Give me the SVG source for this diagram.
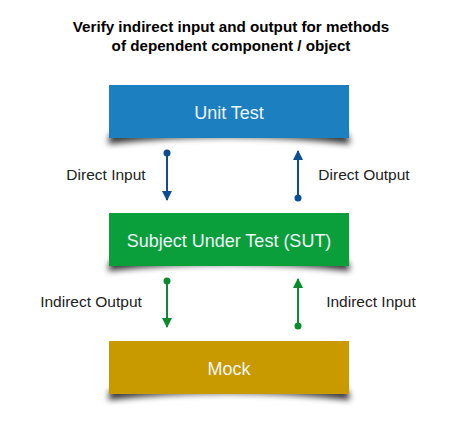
<svg xmlns="http://www.w3.org/2000/svg" width="470" height="428" viewBox="0 0 470 428">
<style>
.title{font-family:"Liberation Sans",Arial,sans-serif;font-size:15.2px;font-weight:bold;fill:#000;text-anchor:middle}
.box{font-family:"Liberation Sans",Arial,sans-serif;font-size:18px;fill:#eef4f8;text-anchor:middle}
.lbl{font-family:"Liberation Sans",Arial,sans-serif;font-size:15.5px;fill:#222;text-anchor:middle}
.blue{stroke:#0b4f91;stroke-width:2;fill:none}
.green{stroke:#0a8c2c;stroke-width:2;fill:none}
</style>
<defs>
<filter id="blur" x="-10%" y="-50%" width="120%" height="200%"><feGaussianBlur stdDeviation="3"/></filter>
<marker id="ab" viewBox="0 0 10 10" refX="9" refY="5" markerWidth="5" markerHeight="5" orient="auto-start-reverse" markerUnits="strokeWidth"><path d="M0,0 L10,5 L0,10 z" fill="#0b4f91"/></marker>
<marker id="ag" viewBox="0 0 10 10" refX="9" refY="5" markerWidth="5" markerHeight="5" orient="auto-start-reverse" markerUnits="strokeWidth"><path d="M0,0 L10,5 L0,10 z" fill="#0a8c2c"/></marker>
<path id="sh" d="M2,-6 L0,0 L-1,5 Q60,-2 120,-2 Q180,-2 241,5 L240,0 L238,-6 Z"/>
</defs>
<rect width="470" height="428" fill="#fff"/>
<text class="title" x="231" y="32">Verify indirect input and output for methods</text>
<text class="title" x="231" y="51">of dependent component / object</text>
<g id="unit-test">
<use href="#sh" transform="translate(109,139)" fill="#000" opacity="0.8" filter="url(#blur)"/>
<rect x="109" y="85" width="240" height="53" fill="#1b7fc0"/>
<text class="box" x="229" y="119">Unit Test</text>
</g>
<g id="sut">
<use href="#sh" transform="translate(109,266)" fill="#000" opacity="0.8" filter="url(#blur)"/>
<rect x="109" y="213" width="240" height="53" fill="#0a9f3b"/>
<text class="box" x="229" y="247">Subject Under Test (SUT)</text>
</g>
<g id="mock">
<use href="#sh" transform="translate(109,395)" fill="#000" opacity="0.8" filter="url(#blur)"/>
<rect x="109" y="341" width="240" height="53" fill="#c99a00"/>
<text class="box" x="229" y="375">Mock</text>
</g>
<g id="connectors">
<circle cx="167" cy="153" r="3.5" fill="#0b4f91"/>
<line class="blue" x1="167" y1="153" x2="167" y2="200" marker-end="url(#ab)"/>
<circle cx="298" cy="198" r="3.5" fill="#0b4f91"/>
<line class="blue" x1="298" y1="198" x2="298" y2="151" marker-end="url(#ab)"/>
<circle cx="167" cy="281" r="3.5" fill="#0a8c2c"/>
<line class="green" x1="167" y1="281" x2="167" y2="327" marker-end="url(#ag)"/>
<circle cx="298" cy="326" r="3.5" fill="#0a8c2c"/>
<line class="green" x1="298" y1="326" x2="298" y2="279" marker-end="url(#ag)"/>
<text class="lbl" x="106" y="180">Direct Input</text>
<text class="lbl" x="364" y="180">Direct Output</text>
<text class="lbl" x="91" y="307">Indirect Output</text>
<text class="lbl" x="371" y="307">Indirect Input</text>
</g>
</svg>
